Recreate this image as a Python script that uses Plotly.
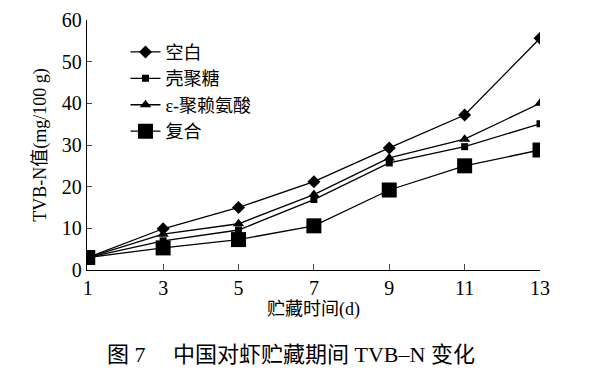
import plotly.graph_objects as go

days = [1, 3, 5, 7, 9, 11, 13]
blank = [3.0, 9.9, 15.0, 21.2, 29.3, 37.2, 55.6]
chitosan = [3.0, 7.0, 9.6, 16.9, 25.7, 29.6, 35.1]
polylysine = [3.0, 8.6, 11.1, 18.1, 26.9, 31.4, 40.0]
combined = [3.0, 5.3, 7.3, 10.6, 19.2, 25.0, 28.8]
names = ["空白", "壳聚糖", "ε-聚赖氨酸", "复合"]
symbols = ["diamond", "square", "triangle-up", "square"]
sizes = [10, 7, 10, 15]
series = [blank, chitosan, polylysine, combined]

serif = "Liberation Serif, Noto Sans CJK SC, serif"
cjk = "Liberation Serif, Noto Sans CJK SC, sans-serif"

fig = go.Figure()
for nm, sym, sz, ys in zip(names, symbols, sizes, series):
    fig.add_trace(go.Scatter(
        x=days, y=ys, name=nm, mode="lines+markers",
        line=dict(color="black", width=1.3),
        marker=dict(symbol=sym, size=sz, color="black"),
    ))

# page body has an 8px margin; figure sized to fit the 594x374 window
fig.update_layout(
    width=586, height=366,
    margin=dict(l=79, r=54, t=12, b=104),
    paper_bgcolor="white", plot_bgcolor="white",
    font=dict(family=serif, color="black", size=16),
    showlegend=True,
    legend=dict(x=0.085, y=0.945, xanchor="left", yanchor="top",
                font=dict(size=18, family=cjk),
                bgcolor="rgba(0,0,0,0)", tracegroupgap=0),
    xaxis=dict(range=[0.98, 13.0], tickvals=days, ticks="inside", ticklen=6,
               showline=True, linecolor="black", linewidth=1.3, showgrid=False,
               zeroline=False, automargin=False, tickfont=dict(size=20, family=serif),
               title=dict(text="贮藏时间(d)", font=dict(size=18, family=cjk), standoff=4)),
    yaxis=dict(range=[0, 60], tickvals=[0, 10, 20, 30, 40, 50, 60], ticks="inside", ticklen=5,
               showline=True, linecolor="black", linewidth=1.3, showgrid=False,
               zeroline=False, automargin=False, ticklabeloverflow="allow",
               tickfont=dict(size=20, family=serif),
               title=dict(text="TVB-N值(mg/100 g)", font=dict(size=18, family=cjk), standoff=10)),
)

fig.add_annotation(text="图 7　 中国对虾贮藏期间 TVB–N 变化", xref="paper", yref="paper",
                   x=0.45, y=-0.28, xanchor="center", yanchor="top", showarrow=False,
                   font=dict(size=22, family=cjk))

fig.write_html("out.html")
